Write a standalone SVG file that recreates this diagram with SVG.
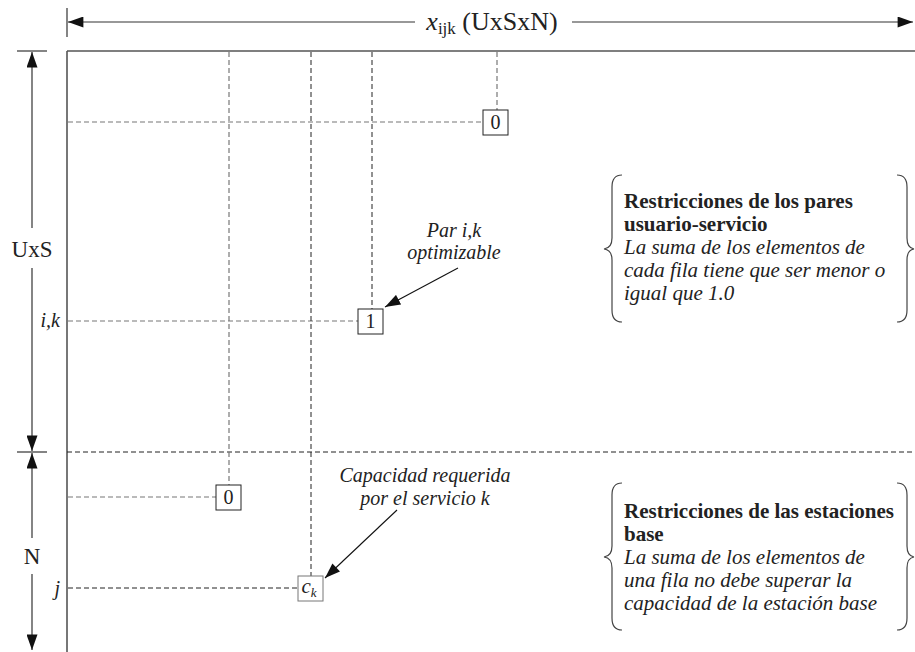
<svg xmlns="http://www.w3.org/2000/svg" width="915" height="652" viewBox="0 0 915 652">
  <style>
    .t { font-family: "Liberation Serif", "Times New Roman", serif; font-size: 20px; fill: #222; }
    .c { font-size: 21px; }
    .b { font-weight: bold; }
    .i { font-style: italic; }
    .axis { stroke: #333; stroke-width: 1.2; fill: none; }
    .frame { stroke: #555; stroke-width: 1.6; fill: none; }
    .dk { stroke: #222; stroke-width: 1; stroke-dasharray: 5 3; fill: none; }
    .gr { stroke: #777; stroke-width: 1.2; stroke-dasharray: 5 3; fill: none; }
    .box { fill: #fff; stroke: #222; stroke-width: 1; }
    .brace { stroke: #444; stroke-width: 1.2; fill: none; }
    .ptr { stroke: #111; stroke-width: 1.1; }
  </style>
  <defs>
    <marker id="ah" viewBox="0 0 14 10" refX="14" refY="5" markerWidth="16" markerHeight="11" markerUnits="userSpaceOnUse" orient="auto">
      <path d="M0,0 L14,5 L0,10 Z" fill="#111"/>
    </marker>
  </defs>

  <!-- matrix frame -->
  <g id="frame">
    <line class="frame" x1="67" y1="51" x2="67" y2="652"/>
    <line class="frame" x1="67" y1="51" x2="915" y2="51"/>
  </g>

  <!-- dimension axes -->
  <g id="axes">
    <line class="axis" x1="67" y1="8" x2="67" y2="37"/>
    <line class="axis" x1="415" y1="22" x2="68" y2="22" marker-end="url(#ah)"/>
    <line class="axis" x1="572" y1="22" x2="913" y2="22" marker-end="url(#ah)"/>
    <text class="t" x="492" y="30" text-anchor="middle" style="font-size:26px"><tspan class="i">x</tspan><tspan style="font-size:17px" dy="4">ijk</tspan><tspan dy="-4"> (UxSxN)</tspan></text>

    <line class="axis" x1="17" y1="51" x2="47" y2="51"/>
    <line class="axis" x1="17" y1="452" x2="47" y2="452"/>
    <line class="axis" x1="32" y1="228" x2="32" y2="52" marker-end="url(#ah)"/>
    <line class="axis" x1="32" y1="268" x2="32" y2="451" marker-end="url(#ah)"/>
    <text class="t" x="32" y="257" text-anchor="middle" style="font-size:23px">UxS</text>
    <line class="axis" x1="32" y1="538" x2="32" y2="453" marker-end="url(#ah)"/>
    <line class="axis" x1="32" y1="574" x2="32" y2="650" marker-end="url(#ah)"/>
    <text class="t" x="32" y="564" text-anchor="middle" style="font-size:23px">N</text>
  </g>

  <!-- grid guide lines and pointers -->
  <g id="connectors">
    <line class="dk" x1="67" y1="452" x2="915" y2="452"/>
    <line class="gr" x1="68" y1="122" x2="483" y2="122"/>
    <line class="gr" x1="68" y1="321" x2="358" y2="321"/>
    <line class="gr" x1="68" y1="497" x2="216" y2="497"/>
    <line class="dk" x1="68" y1="588" x2="298" y2="588"/>
    <line class="gr" x1="229" y1="52" x2="229" y2="485"/>
    <line class="dk" x1="311" y1="52" x2="311" y2="576"/>
    <line class="dk" x1="372" y1="52" x2="372" y2="309"/>
    <line class="gr" x1="497" y1="52" x2="497" y2="110"/>
    <line class="ptr" x1="458" y1="268" x2="385" y2="307" marker-end="url(#ah)"/>
    <line class="ptr" x1="397" y1="510" x2="325" y2="578" marker-end="url(#ah)"/>
  </g>

  <!-- row labels -->
  <g id="row-labels">
    <text class="t i" x="60" y="327" text-anchor="end">i,k</text>
    <text class="t i" x="60" y="595" text-anchor="end">j</text>
  </g>

  <!-- matrix cells -->
  <g id="cell-top-zero">
    <rect class="box" x="483" y="110" width="25" height="25"/>
    <text class="t" x="495.5" y="129" text-anchor="middle">0</text>
  </g>
  <g id="cell-one">
    <rect class="box" x="358" y="309" width="25" height="25"/>
    <text class="t" x="370.5" y="328" text-anchor="middle">1</text>
  </g>
  <g id="cell-bottom-zero">
    <rect class="box" x="216" y="485" width="25" height="25"/>
    <text class="t" x="228.5" y="504" text-anchor="middle">0</text>
  </g>
  <g id="cell-ck">
    <rect class="box" x="298" y="576" width="25" height="25" style="stroke:#777"/>
    <text class="t i" x="309" y="593" text-anchor="middle" style="font-size:21px">c<tspan style="font-size:13px" dy="4">k</tspan></text>
  </g>

  <!-- annotations -->
  <g id="note-pair">
    <text class="t i" x="454" y="237" text-anchor="middle">Par i,k</text>
    <text class="t i" x="454" y="259" text-anchor="middle">optimizable</text>
  </g>
  <g id="note-capacity">
    <text class="t i" x="425" y="482" text-anchor="middle">Capacidad requerida</text>
    <text class="t i" x="425" y="505" text-anchor="middle">por el servicio k</text>
  </g>

  <g id="constraints-users">
    <path class="brace" d="M622,175 Q612,175 612,187 L612,238 Q612,248 604,249 Q612,250 612,260 L612,310 Q612,322 622,322"/>
    <path class="brace" d="M897,175 Q907,175 907,187 L907,238 Q907,248 914,249 Q907,250 907,260 L907,310 Q907,322 897,322"/>
    <text class="t c b" x="624" y="208">Restricciones de los pares</text>
    <text class="t c b" x="624" y="231">usuario-servicio</text>
    <text class="t c i" x="624" y="254">La suma de los elementos de</text>
    <text class="t c i" x="624" y="277">cada fila tiene que ser menor o</text>
    <text class="t c i" x="624" y="300">igual que 1.0</text>
  </g>

  <g id="constraints-stations">
    <path class="brace" d="M622,483 Q612,483 612,495 L612,546 Q612,556 604,557 Q612,558 612,568 L612,618 Q612,630 622,630"/>
    <path class="brace" d="M897,483 Q907,483 907,495 L907,546 Q907,556 914,557 Q907,558 907,568 L907,618 Q907,630 897,630"/>
    <text class="t c b" x="624" y="518">Restricciones de las estaciones</text>
    <text class="t c b" x="624" y="541">base</text>
    <text class="t c i" x="624" y="564">La suma de los elementos de</text>
    <text class="t c i" x="624" y="587">una fila no debe superar la</text>
    <text class="t c i" x="624" y="610">capacidad de la estación base</text>
  </g>
</svg>
